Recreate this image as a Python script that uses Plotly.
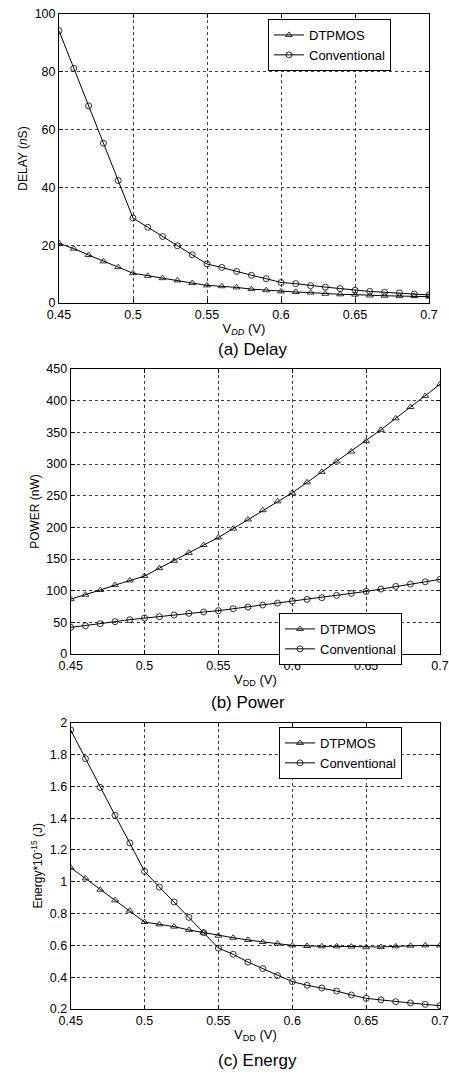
import plotly.graph_objects as go

vdd = [0.45, 0.46, 0.47, 0.48, 0.49, 0.50, 0.51, 0.52, 0.53, 0.54, 0.55, 0.56, 0.57,
       0.58, 0.59, 0.60, 0.61, 0.62, 0.63, 0.64, 0.65, 0.66, 0.67, 0.68, 0.69, 0.70]

delay_dtpmos = [20.7, 18.8, 16.6, 14.4, 12.4, 10.3, 9.4, 8.6, 7.8, 6.9, 6.1, 5.8, 5.4,
                4.8, 4.4, 4.0, 3.8, 3.6, 3.2, 3.0, 2.9, 2.6, 2.5, 2.4, 2.4, 2.2]
delay_conv = [94.2, 81.2, 68.2, 55.3, 42.4, 29.4, 26.2, 23.0, 19.8, 16.7, 13.5, 12.3, 10.9,
              9.6, 8.4, 7.1, 6.7, 6.0, 5.5, 5.0, 4.4, 4.0, 3.7, 3.5, 3.1, 2.8]

power_dtpmos = [86.7, 93.6, 101, 108.8, 116.2, 123, 135.6, 147.2, 159.8, 172, 184, 198, 212.4,
                227, 241, 254.5, 271, 287.6, 304, 319.7, 336, 354, 372, 390, 407.5, 425.9]
power_conv = [42, 44.7, 47.8, 51, 54.2, 56.8, 58.9, 61.5, 64.2, 66.3, 68.4, 71.5, 74.1,
              77.3, 80.4, 83.6, 86.2, 88.9, 92.5, 95.7, 98.8, 102.5, 106.7, 110.4, 114, 117.8]

energy_dtpmos = [1.089, 1.021, 0.950, 0.883, 0.818, 0.747, 0.732, 0.718, 0.697, 0.680, 0.661,
                 0.648, 0.634, 0.621, 0.611, 0.600, 0.596, 0.594, 0.594, 0.592, 0.588, 0.590,
                 0.594, 0.598, 0.600, 0.600]
energy_conv = [1.954, 1.774, 1.593, 1.418, 1.244, 1.065, 0.967, 0.873, 0.776, 0.680, 0.583,
               0.544, 0.495, 0.454, 0.410, 0.372, 0.349, 0.332, 0.313, 0.288, 0.267, 0.257,
               0.246, 0.238, 0.229, 0.221]

x_tickvals = [0.45, 0.5, 0.55, 0.6, 0.65, 0.7]
x_ticktext = ["0.45", "0.5", "0.55", "0.6", "0.65", "0.7"]

delay_ticks = [0, 20, 40, 60, 80, 100]
power_ticks = [0, 50, 100, 150, 200, 250, 300, 350, 400, 450]
energy_ticks = [0.2, 0.4, 0.6, 0.8, 1.0, 1.2, 1.4, 1.6, 1.8, 2.0]
energy_ticktext = ["0.2", "0.4", "0.6", "0.8", "1", "1.2", "1.4", "1.6", "1.8", "2"]

series_names = ["DTPMOS", "Conventional"]
panel_titles = ["(a) Delay", "(b) Power", "(c) Energy"]

FONT = "Liberation Sans, Arial, sans-serif"
W, H = 449, 1073

fig = go.Figure()

def px_x(p):
    return p / W

def px_y(p):
    return 1 - p / H

panels = [
    dict(x0=59.0, x1=429.0, y0=14, y1=303, data=(delay_dtpmos, delay_conv), rng=[0, 100],
         ticks=delay_ticks, ticktext=[str(t) for t in delay_ticks], ytitle="DELAY (<i>n</i>S)",
         xtitle="V<sub><i>DD</i></sub> (V)", legend=dict(x0=268, y0=19), title_y=350, title_x=252),
    dict(x0=70.7, x1=440.0, y0=369, y1=654, data=(power_dtpmos, power_conv), rng=[0, 450],
         ticks=power_ticks, ticktext=[str(t) for t in power_ticks], ytitle="POWER (nW)",
         xtitle="V<sub>DD</sub> (V)", legend=dict(x0=279, y0=613), title_y=702, title_x=248),
    dict(x0=70.7, x1=440.0, y0=722.7, y1=1009, data=(energy_dtpmos, energy_conv), rng=[0.2, 2.0],
         ticks=energy_ticks, ticktext=energy_ticktext, ytitle="Energy*10<sup>-15</sup> (J)",
         xtitle="V<sub>DD</sub> (V)", legend=dict(x0=279, y0=727), title_y=1060, title_x=257),
]

symbols = ["triangle-up-open", "circle-open"]

layout = dict(
    width=W, height=H, autosize=False,
    margin=dict(l=0, r=0, t=0, b=0, autoexpand=False),
    paper_bgcolor="white", plot_bgcolor="white",
    font=dict(family=FONT, size=13, color="black"),
    showlegend=True,
)

annotations = []
for i, p in enumerate(panels):
    n = i + 1
    xa = "x" if n == 1 else f"x{n}"
    ya = "y" if n == 1 else f"y{n}"
    lg = "legend" if n == 1 else f"legend{n}"
    for k in range(2):
        fig.add_trace(go.Scatter(
            x=vdd, y=p["data"][k], xaxis=xa, yaxis=ya, legend=lg,
            name=series_names[k], mode="lines+markers",
            line=dict(color="black", width=1),
            marker=dict(symbol=symbols[k], size=6, color="black", line=dict(width=0.8, color="black")),
        ))
    axis_common = dict(
        showline=True, linecolor="black", linewidth=1, mirror="ticks",
        ticks="inside", ticklen=4, tickcolor="black", automargin=False,
        ticklabeloverflow="allow",
        showgrid=True, gridcolor="rgba(0,0,0,0.75)", griddash="dot", gridwidth=1,
        zeroline=False, tickfont=dict(size=12.5, family=FONT),
    )
    layout["xaxis" if n == 1 else f"xaxis{n}"] = dict(
        axis_common, domain=[px_x(p["x0"]), px_x(p["x1"])], anchor=ya,
        range=[0.45, 0.7], tickvals=x_tickvals, ticktext=x_ticktext,
        title=dict(text=p["xtitle"], standoff=2, font=dict(size=13)),
    )
    layout["yaxis" if n == 1 else f"yaxis{n}"] = dict(
        axis_common, domain=[px_y(p["y1"]), px_y(p["y0"])], anchor=xa,
        range=p["rng"], tickvals=p["ticks"], ticktext=p["ticktext"],
        title=dict(text=p["ytitle"], standoff=4, font=dict(size=12)),
    )
    layout[lg] = dict(
        x=px_x(p["legend"]["x0"]), y=px_y(p["legend"]["y0"]), xanchor="left", yanchor="top",
        bgcolor="white", bordercolor="black", borderwidth=1,
        font=dict(size=13, family=FONT), tracegroupgap=0, itemwidth=30,
    )
    annotations.append(dict(
        text=panel_titles[i], xref="paper", yref="paper",
        x=px_x(p["title_x"]), y=px_y(p["title_y"]), xanchor="center", yanchor="middle",
        showarrow=False, font=dict(size=17, family=FONT),
    ))

layout["annotations"] = annotations
fig.update_layout(**layout)
fig.write_html(
    "out.html",
    config={"displayModeBar": False},
    post_script="document.body.style.margin='0';document.body.style.overflow='hidden';",
)
